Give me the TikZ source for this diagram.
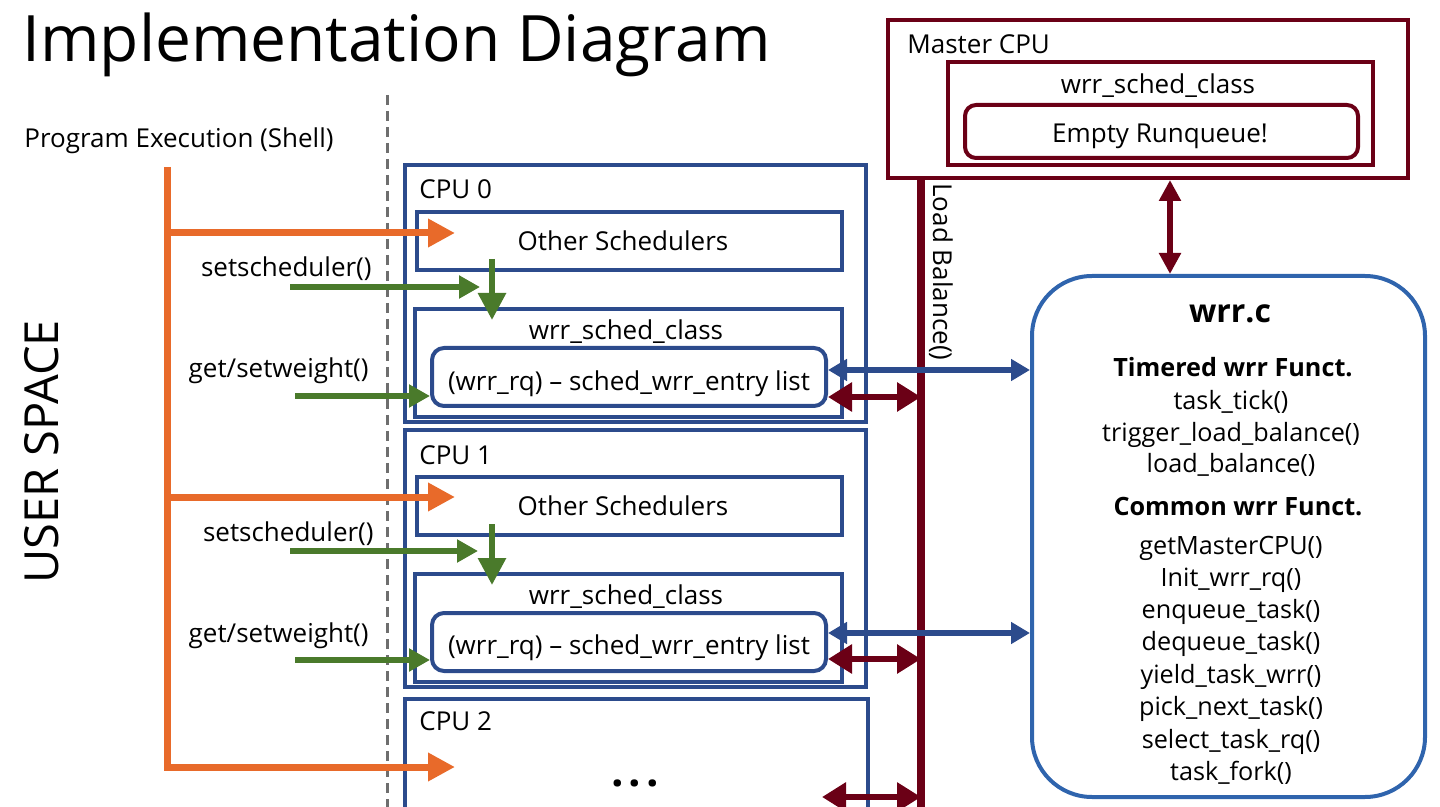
\documentclass[tikz,border=0pt]{standalone}
\usepackage{fontspec}
\setmainfont{Open Sans}
\usetikzlibrary{arrows.meta}
\usetikzlibrary{positioning}

\definecolor{shellorange}{HTML}{E86A2A}
\definecolor{callgreen}{HTML}{4A7A2B}
\definecolor{cpublue}{HTML}{2C4B8C}
\definecolor{fileblue}{HTML}{2F64AD}
\definecolor{masterred}{HTML}{6B0016}
\definecolor{spacegray}{HTML}{6E6E6E}

\tikzset{
	txt/.style={inner sep=0pt, font=\fontsize{13}{15}\selectfont, text height=9.5pt, text depth=0.5pt},
	fntxt/.style={txt, font=\fontsize{12.6}{14}\selectfont},
	headtxt/.style={txt, font=\bfseries\fontsize{12.6}{14}\selectfont},
	cpubox/.style={draw=cpublue, line width=2pt, inner sep=0pt},
	rqbox/.style={cpubox, rounded corners=6pt},
	masterbox/.style={draw=masterred, line width=2pt, inner sep=0pt},
	shell/.style={draw=shellorange, line width=3.5pt},
	shellarrow/.style={shell, -{Triangle[length=13.5pt,width=13.5pt]}},
	callarrow/.style={draw=callgreen, line width=3pt, -{Triangle[length=10.5pt,width=11pt]}},
	bigcall/.style={draw=callgreen, line width=3pt, -{Triangle[length=13.5pt,width=13.5pt]}},
	lbarrow/.style={draw=masterred, line width=3.2pt, {Triangle[length=12pt,width=14pt]}-{Triangle[length=12pt,width=14pt]}},
	masterarrow/.style={draw=masterred, line width=3.2pt, {Triangle[length=10.5pt,width=10.5pt]}-{Triangle[length=10.5pt,width=10.5pt]}},
	filearrow/.style={draw=cpublue, line width=2.6pt, {Triangle[length=9.5pt,width=10.5pt]}-{Triangle[length=9.5pt,width=10.5pt]}},
}

\begin{document}
\begin{tikzpicture}[x=0.5pt, y=-0.5pt]
		\useasboundingbox (0,0) rectangle (1440,807);
		
		% titles
		\node[inner sep=0pt, anchor=base west, font=\fontsize{32}{36}\selectfont] (title) at (22,62) {Implementation Diagram};
		\node[txt, anchor=west] (shelllbl) at (24,139) {Program Execution (Shell)};
		\node[inner sep=0pt, rotate=90, font=\fontsize{23.5}{26}\selectfont] (userspace) at (42,452) {USER SPACE};
		
		\draw[spacegray, line width=1.5pt, dash pattern=on 5pt off 3pt] (387,95) -- (387,807);
		
		% CPU 0
		\node[cpubox, anchor=north west, minimum width=230.5pt, minimum height=128.5pt] (cpu0) at (403,163) {};
		\node[txt, anchor=west] (cpu0lbl) at (419,190) {CPU 0};
		\node[cpubox, minimum width=212.5pt, minimum height=29pt] (other0) at (629.5,241) {};
		\node[txt] (other0lbl) at (623,242) {Other Schedulers};
		\node[cpubox, minimum width=213.5pt, minimum height=54pt] (class0) at (628.5,363) {};
		\node[txt] (class0lbl) at (626,331) {wrr\_sched\_class};
		\node[rqbox, minimum width=197pt, minimum height=29pt] (rq0) at (629,377) {};
		\node[txt] (rq0lbl) at (629,382) {(wrr\_rq) -- sched\_wrr\_entry list};
		
		% CPU 1
		\node[cpubox, anchor=north west, minimum width=230.5pt, minimum height=128.5pt] (cpu1) at (403,428) {};
		\node[txt, anchor=west] (cpu1lbl) at (419,456) {CPU 1};
		\node[cpubox, minimum width=212.5pt, minimum height=29pt] (other1) at (629.5,506) {};
		\node[txt] (other1lbl) at (623,507) {Other Schedulers};
		\node[cpubox, minimum width=213.5pt, minimum height=54pt] (class1) at (628.5,628) {};
		\node[txt] (class1lbl) at (626,595) {wrr\_sched\_class};
		\node[rqbox, minimum width=197pt, minimum height=29pt] (rq1) at (629,642) {};
		\node[txt] (rq1lbl) at (629,645) {(wrr\_rq) -- sched\_wrr\_entry list};
		
		% CPU 2
		\node[cpubox, anchor=north west, minimum width=231.5pt, minimum height=110pt] (cpu2) at (403,697) {};
		\node[txt, anchor=west] (cpu2lbl) at (419,721) {CPU 2};
		\node[inner sep=0pt, font=\bfseries\fontsize{22}{24}\selectfont] (dots) at (635,783) {.\hspace{2.5pt}.\hspace{2.5pt}.};
		
		% Master CPU
		\node[masterbox, minimum width=260pt, minimum height=79pt] (master) at (1148,99) {};
		\node[txt, anchor=west] (masterlbl) at (907,45) {Master CPU};
		\node[masterbox, minimum width=212.5pt, minimum height=51.5pt] (masterclass) at (1160.5,113.5) {};
		\node[txt] (masterclasslbl) at (1158,85) {wrr\_sched\_class};
		\node[masterbox, rounded corners=5.5pt, minimum width=196.5pt, minimum height=26.5pt] (emptyrq) at (1161.5,131.5) {};
		\node[txt] (emptyrqlbl) at (1160,134) {Empty Runqueue!};
		
		% wrr.c
		\node[draw=fileblue, line width=2pt, rounded corners=30pt, minimum width=196.5pt, minimum height=260.5pt] (wrrc) at (1228.5,536.5) {};
		\node[inner sep=0pt, font=\bfseries\fontsize{16}{18}\selectfont] (wrrclbl) at (1230,314) {wrr.c};
		\node[headtxt] (timered) at (1233,368) {Timered wrr Funct.};
		\node[headtxt] (common) at (1238,507) {Common wrr Funct.};
		\foreach \fn/\y in {task\_tick()/401, trigger\_load\_balance()/433, load\_balance()/464,
			getMasterCPU()/545, Init\_wrr\_rq()/577, enqueue\_task()/609, dequeue\_task()/641,
			yield\_task\_wrr()/674, pick\_next\_task()/706, select\_task\_rq()/739, task\_fork()/771}
			\node[fntxt] (fn-\y) at (1231,\y) {\fn};
		
		% system calls from user space
		\node[txt, anchor=east] (sched0lbl) at (372,268) {setscheduler()};
		\node[txt, anchor=east] (wt0lbl) at (369,369) {get/setweight()};
		\node[txt, anchor=east] (sched1lbl) at (374,532) {setscheduler()};
		\node[txt, anchor=east] (wt1lbl) at (369,633) {get/setweight()};
		
		\coordinate (shelltop) at (167,167);
		\coordinate (in0) at (455,233);
		\coordinate (in1) at (455,497);
		\coordinate (in2) at (455,767);
		\draw[shellarrow] (shelltop) -- (shelltop |- in2) -- (in2);
		\draw[shellarrow] (shelltop |- in0) -- (in0);
		\draw[shellarrow] (shelltop |- in1) -- (in1);
		
		\coordinate (sched0) at (290,287);
		\coordinate (sched0end) at (480,287);
		\coordinate (sched1) at (290,551);
		\coordinate (sched1end) at (478,551);
		\coordinate (wt0) at (295,396);
		\coordinate (wt1) at (295,660);
		\draw[callarrow] (sched0) -- (sched0end);
		\draw[callarrow] (sched1) -- (sched1end);
		\draw[callarrow] (wt0) -- (wt0 -| rq0.west);
		\draw[callarrow] (wt1) -- (wt1 -| rq1.west);
		\draw[bigcall] ([xshift=-68.75pt,yshift=6.5pt]other0.south) -- ([xshift=-68.25pt,yshift=-6.5pt]class0.north);
		\draw[bigcall] ([xshift=-68.75pt,yshift=6.5pt]other1.south) -- ([xshift=-68.25pt,yshift=-6.5pt]class1.north);
		
		% load balance
		\coordinate (lbtop) at (921,178);
		\coordinate (lbbot) at (921,807);
		\coordinate (lb0) at ([yshift=-10pt]rq0.east);
		\coordinate (lb1) at ([yshift=-8.5pt]rq1.east);
		\coordinate (lb2) at (822,797);
		\draw[lbarrow] (lb0) -- (lb0 -| lbtop);
		\draw[lbarrow] (lb1) -- (lb1 -| lbtop);
		\draw[lbarrow] (lb2) -- (lb2 -| lbtop);
		\draw[masterred, line width=4pt] (lbtop) -- (lbbot);
		\node[txt, rotate=-90] (lblbl) at (942,272) {Load Balance()};
		
		\draw[masterarrow] ([xshift=11pt]master.south) -- ([xshift=-29.25pt]wrrc.north);
		
		% runqueues to wrr.c
		\coordinate (bl0) at ([yshift=3.5pt]rq0.east);
		\coordinate (bl1) at ([yshift=4.5pt]rq1.east);
		\draw[filearrow] (bl0) -- (bl0 -| wrrc.west);
		\draw[filearrow] (bl1) -- (bl1 -| wrrc.west);
	\end{tikzpicture}
\end{document}
